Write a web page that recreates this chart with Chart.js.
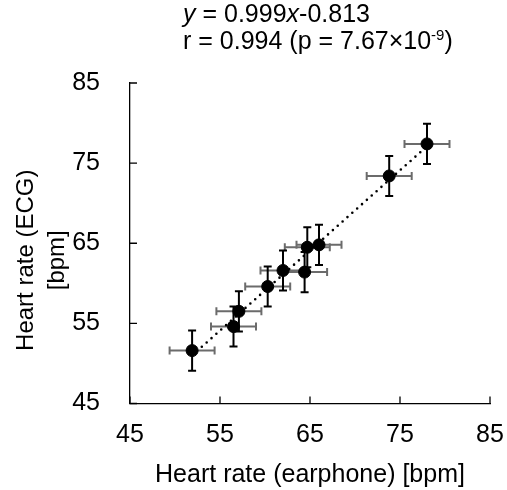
<!DOCTYPE html>
<html>
<head>
<meta charset="utf-8">
<script src="https://cdn.jsdelivr.net/npm/chart.js@4"></script>
<style>
  body { margin: 0; background: #fff; }
  #wrap { position: relative; width: 507px; height: 490px; }
  #eq {
    position: absolute; left: 183px; top: 0;
    font: 25px Arial, "Liberation Sans", sans-serif;
    line-height: 27px; color: #000; white-space: nowrap;
  }
  #eq sup { font-size: 15px; line-height: 0; vertical-align: 9px; }
</style>
</head>
<body>
<div id="wrap">
  <canvas id="grafico" width="507" height="490"></canvas>
  <div id="eq"><i>y</i> = 0.999<i>x</i>-0.813<br>r = 0.994 (p = 7.67×10<sup>-9</sup>)</div>
</div>
<script>
// datos
const earphoneHR = [51.9, 56.5, 57.1, 60.3, 62.0, 64.4, 64.7, 66.0, 73.8, 78.0];
const ecgHR      = [51.6, 54.6, 56.5, 59.6, 61.6, 61.4, 64.5, 64.8, 73.4, 77.4];
const earphoneErr = [2.5, 2.5, 2.5, 2.5, 2.5, 2.5, 2.5, 2.5, 2.5, 2.5];
const ecgErr      = [2.5, 2.5, 2.5, 2.5, 2.5, 2.5, 2.5, 2.5, 2.5, 2.5];
const fitX = [51.9, 78.0];
const fitY = [51.0, 77.1];
const tickValues = [45, 55, 65, 75, 85];
const yTitle = ['Heart rate (ECG)', '[bpm]'];

const FONT = "Arial, 'Liberation Sans', sans-serif";

// ========== Barras de error ==========
const barrasError = {
  id: 'barrasError',
  beforeDatasetsDraw(chart) {
    const { ctx, scales: { x, y } } = chart;
    const cap = 4;
    ctx.save();
    ctx.lineWidth = 2;
    // horizontales (gris)
    ctx.strokeStyle = '#6b6b6b';
    ctx.beginPath();
    earphoneHR.forEach((v, i) => {
      const py = y.getPixelForValue(ecgHR[i]);
      const x0 = x.getPixelForValue(v - earphoneErr[i]);
      const x1 = x.getPixelForValue(v + earphoneErr[i]);
      ctx.moveTo(x0, py); ctx.lineTo(x1, py);
      ctx.moveTo(x0, py - cap); ctx.lineTo(x0, py + cap);
      ctx.moveTo(x1, py - cap); ctx.lineTo(x1, py + cap);
    });
    ctx.stroke();
    // verticales (negro)
    ctx.strokeStyle = '#000';
    ctx.beginPath();
    ecgHR.forEach((v, i) => {
      const px = x.getPixelForValue(earphoneHR[i]);
      const y0 = y.getPixelForValue(v - ecgErr[i]);
      const y1 = y.getPixelForValue(v + ecgErr[i]);
      ctx.moveTo(px, y0); ctx.lineTo(px, y1);
      ctx.moveTo(px - cap, y0); ctx.lineTo(px + cap, y0);
      ctx.moveTo(px - cap, y1); ctx.lineTo(px + cap, y1);
    });
    ctx.stroke();
    ctx.restore();
  }
};

// ========== Marcas hacia dentro y titulo Y ==========
const marcasDentro = {
  id: 'marcasDentro',
  afterDraw(chart) {
    const { ctx, chartArea, scales } = chart;
    ctx.save();
    ctx.strokeStyle = '#000';
    ctx.lineWidth = 1.3;
    ctx.beginPath();
    tickValues.forEach((v) => {
      const px = scales.x.getPixelForValue(v);
      ctx.moveTo(px, chartArea.bottom); ctx.lineTo(px, chartArea.bottom - 7);
      const py = scales.y.getPixelForValue(v);
      ctx.moveTo(chartArea.left, py); ctx.lineTo(chartArea.left + 7, py);
    });
    ctx.stroke();

    // titulo del eje Y (dos lineas, un poco por debajo del centro)
    const cy = (chartArea.top + chartArea.bottom) / 2 + 17;
    ctx.fillStyle = '#000';
    ctx.font = '24px ' + FONT;
    ctx.textAlign = 'center';
    ctx.textBaseline = 'middle';
    yTitle.forEach((linea, i) => {
      ctx.save();
      ctx.translate(26 + i * 31, cy);
      ctx.rotate(-Math.PI / 2);
      ctx.fillText(linea, 0, 0);
      ctx.restore();
    });
    ctx.restore();
  }
};

const ctx = document.getElementById('grafico').getContext('2d');

new Chart(ctx, {
  type: 'scatter',
  data: {
    datasets: [
      {
        type: 'scatter',
        data: earphoneHR.map((v, i) => ({ x: v, y: ecgHR[i] })),
        backgroundColor: '#000',
        borderColor: '#000',
        pointRadius: 6,
        pointHoverRadius: 6,
        order: 1,
      },
      {
        type: 'line',
        data: fitX.map((v, i) => ({ x: v, y: fitY[i] })),
        borderColor: '#000',
        borderWidth: 2.6,
        borderDash: [0, 6.5],
        borderCapStyle: 'round',
        pointRadius: 0,
        fill: false,
        order: 2,
      },
    ],
  },
  options: {
    responsive: false,
    animation: false,
    events: [],
    layout: { padding: { top: 83, right: 17, left: 0, bottom: 0 } },
    plugins: { legend: { display: false }, tooltip: { enabled: false } },
    scales: {
      x: {
        type: 'linear',
        min: 45,
        max: 85,
        afterBuildTicks: (s) => { s.ticks = tickValues.map((v) => ({ value: v })); },
        afterFit: (s) => { s.height = 86.5; s.paddingLeft = 0; s.paddingRight = 0; },
        grid: { display: false },
        border: { display: true, color: '#000', width: 1.3 },
        ticks: { color: '#000', padding: 9, font: { family: FONT, size: 25 } },
        title: {
          display: true,
          text: 'Heart rate (earphone) [bpm]',
          color: '#000',
          padding: { top: 0, bottom: 0 },
          font: { family: FONT, size: 25 },
        },
      },
      y: {
        type: 'linear',
        min: 45,
        max: 85,
        afterBuildTicks: (s) => { s.ticks = tickValues.map((v) => ({ value: v })); },
        afterFit: (s) => { s.width = 130; s.paddingTop = 0; s.paddingBottom = 0; },
        grid: { display: false },
        border: { display: true, color: '#000', width: 1.3 },
        ticks: { color: '#000', padding: 22, font: { family: FONT, size: 25 } },
        title: { display: false },
      },
    },
  },
  plugins: [barrasError, marcasDentro],
});
</script>
</body>
</html>
